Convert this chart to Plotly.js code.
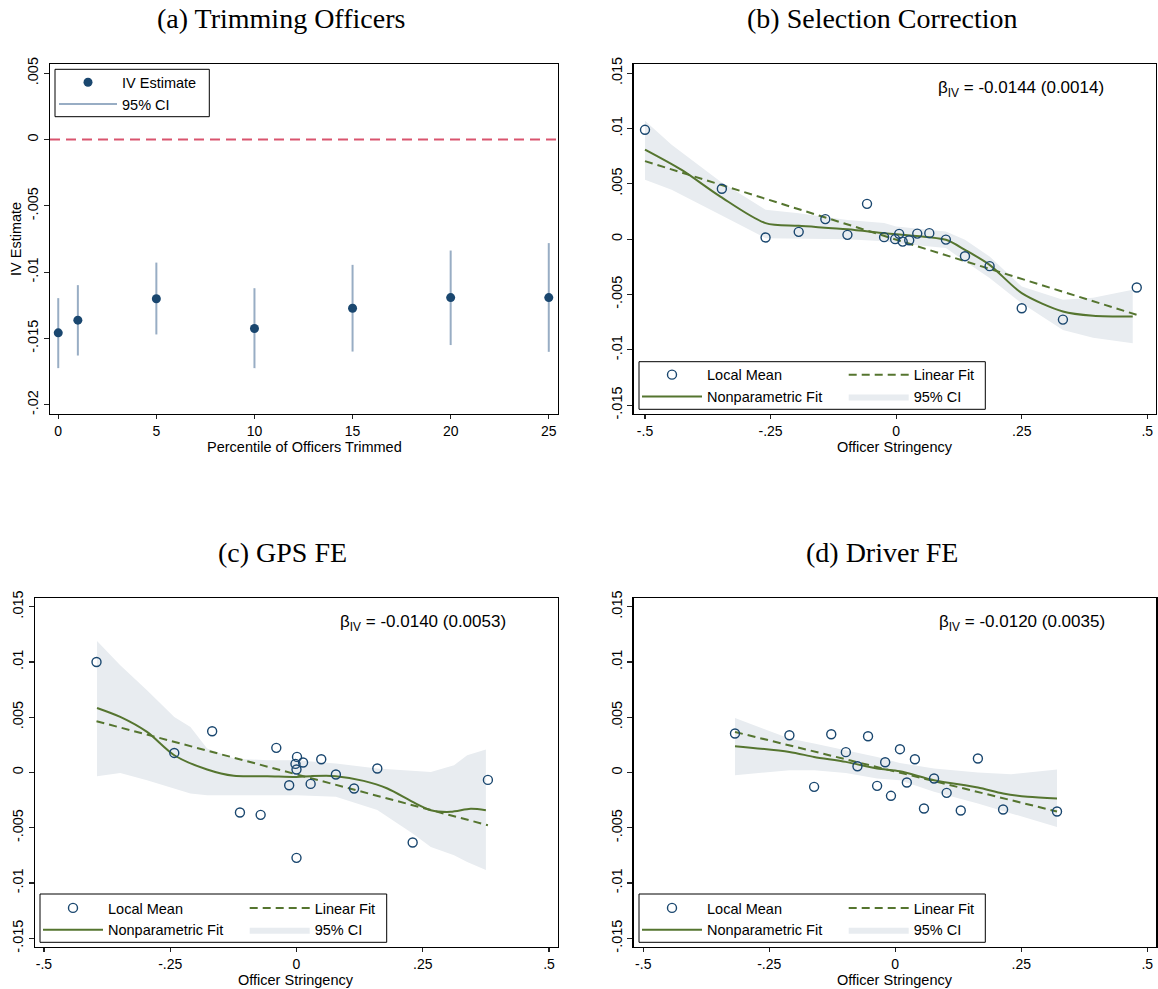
<!DOCTYPE html>
<html>
<head>
<meta charset="utf-8">
<script src="https://cdn.plot.ly/plotly-3.0.1.min.js"></script>
<style>html,body{margin:0;padding:0;background:#fff;}#chart{width:1158px;height:989px;}</style>
</head>
<body>
<div id="chart"></div>
<script>
// ---------- Panel (a): Trimming Officers ----------
var aPct = [0, 1, 5, 10, 15, 20, 25];
var aEst = [-0.01458, -0.01362, -0.01201, -0.01425, -0.01272, -0.01192, -0.01192];
var aLo  = [-0.01724, -0.01629, -0.01470, -0.01724, -0.01599, -0.01550, -0.01601];
var aHi  = [-0.01196, -0.01098, -0.00928, -0.01121, -0.00945, -0.00837, -0.00781];
var aXTicks = [0, 5, 10, 15, 20, 25];
var aYTicks = [0.005, 0, -0.005, -0.01, -0.015, -0.02];
var aYTickText = [".005", "0", "-.005", "-.01", "-.015", "-.02"];

// ---------- Panel (b): Selection Correction ----------
var bX = [-0.5, -0.347, -0.26, -0.194, -0.141, -0.097, -0.058, -0.024, -0.002, 0.006, 0.013, 0.026, 0.042, 0.066, 0.099, 0.137, 0.186, 0.25, 0.332, 0.479];
var bY = [0.00988, 0.00455, 0.00015, 0.00066, 0.00181, 0.00039, 0.00319, 0.00018, 0.0, 0.00048, -0.00022, -0.0001, 0.0005, 0.00054, -0.00004, -0.00154, -0.00244, -0.00624, -0.00727, -0.00437];
var bFitX = [-0.5, -0.427, -0.35, -0.26, -0.194, -0.097, -0.024, 0, 0.099, 0.137, 0.186, 0.25, 0.332, 0.392, 0.471];
var bFitY = [0.0081, 0.00626, 0.00385, 0.00145, 0.0012, 0.0009, 0.00054, 0.00045, -0.00006, -0.00097, -0.00232, -0.00488, -0.00654, -0.00693, -0.007];
var bBandX = [-0.5, -0.447, -0.35, -0.26, -0.194, -0.097, -0.024, 0, 0.099, 0.137, 0.186, 0.25, 0.332, 0.392, 0.471];
var bUpper = [0.0107, 0.00852, 0.0052, 0.00265, 0.00235, 0.00174, 0.00145, 0.00114, 0.00069, -0.00006, -0.00157, -0.00428, -0.00548, -0.0053, -0.00458];
var bLower = [0.00536, 0.00446, 0.0022, 0.00009, 0.00003, 0.0, -0.0002, -0.00036, -0.00081, -0.002, -0.0035, -0.0058, -0.0082, -0.0089, -0.0094];
var bLinX = [-0.5, 0.479];
var bLinY = [0.00705, -0.00684];
var bLabel = "β<sub>IV</sub> = -0.0144 (0.0014)";

// ---------- Panel (c): GPS FE ----------
var cX = [-0.396, -0.242, -0.167, -0.112, -0.071, -0.040, -0.0145, -0.002, 0.001, 0.0, 0.0, 0.013, 0.028, 0.049, 0.078, 0.114, 0.16, 0.23, 0.379];
var cY = [0.0100, 0.00177, 0.00373, -0.00362, -0.00383, 0.00223, -0.00115, 0.00078, 0.00141, 0.00027, -0.00772, 0.0009, -0.00103, 0.0012, -0.00018, -0.00145, 0.00036, -0.00633, -0.00067];
var cFitX = [-0.395, -0.349, -0.296, -0.242, -0.177, -0.124, -0.058, 0, 0.028, 0.078, 0.133, 0.18, 0.23, 0.266, 0.305, 0.345, 0.375];
var cFitY = [0.00584, 0.00503, 0.00367, 0.00156, 0.00027, -0.0003, -0.00033, -0.0004, -0.00033, -0.00033, -0.00076, -0.00145, -0.00266, -0.00341, -0.00356, -0.00329, -0.00341];
var cBandX = [-0.395, -0.349, -0.296, -0.242, -0.21, -0.177, -0.124, -0.058, 0, 0.078, 0.16, 0.23, 0.266, 0.312, 0.338, 0.375];
var cUpper = [0.0119, 0.0097, 0.00744, 0.00503, 0.00412, 0.00217, 0.00127, 0.00111, 0.00111, 0.00081, 0.00036, 0.00015, 0.00005, 0.00066, 0.00156, 0.00208];
var cLower = [-0.00033, -0.00004, -0.0007, -0.00145, -0.0019, -0.00205, -0.00205, -0.00205, -0.00205, -0.0022, -0.0034, -0.00552, -0.00673, -0.00748, -0.0081, -0.00883];
var cLinX = [-0.396, 0.379];
var cLinY = [0.00464, -0.00477];
var cLabel = "β<sub>IV</sub> = -0.0140 (0.0053)";

// ---------- Panel (d): Driver FE ----------
var dX = [-0.318, -0.21, -0.161, -0.127, -0.098, -0.075, -0.054, -0.036, -0.020, -0.0085, 0.0093, 0.023, 0.039, 0.057, 0.077, 0.102, 0.13, 0.164, 0.214, 0.321];
var dY = [0.00353, 0.00337, -0.0013, 0.00346, 0.00184, 0.00057, 0.00328, -0.00121, 0.00093, -0.00211, 0.00211, -0.0009, 0.0012, -0.00326, -0.00054, -0.00184, -0.00344, 0.00127, -0.00335, -0.00353];
var dFitX = [-0.318, -0.21, -0.161, -0.098, -0.036, 0.009, 0.077, 0.164, 0.214, 0.263, 0.321];
var dFitY = [0.00238, 0.00186, 0.00141, 0.00096, 0.00036, 0.00012, -0.0007, -0.00136, -0.0019, -0.0022, -0.00235];
var dBandX = [-0.318, -0.21, -0.161, -0.098, -0.036, 0.009, 0.077, 0.164, 0.23, 0.321];
var dUpper = [0.00494, 0.00307, 0.00262, 0.00202, 0.00141, 0.00087, 0.00036, 0.0, -0.00015, 0.00027];
var dLower = [-0.00024, 0.00021, 0.00021, -0.00004, -0.00054, -0.0007, -0.00175, -0.0028, -0.0037, -0.00492];
var dLinX = [-0.318, 0.321];
var dLinY = [0.00367, -0.00353];
var dLabel = "β<sub>IV</sub> = -0.0120 (0.0035)";

// shared tick labels for (b)-(d)
var sXTicks = [-0.5, -0.25, 0, 0.25, 0.5];
var sXTickText = ["-.5", "-.25", "0", ".25", ".5"];
var sYTicks = [0.015, 0.01, 0.005, 0, -0.005, -0.01, -0.015];
var sYTickText = [".015", ".01", ".005", "0", "-.005", "-.01", "-.015"];

var panelTitles = ["(a) Trimming Officers", "(b) Selection Correction", "(c) GPS FE", "(d) Driver FE"];
var xTitles = ["Percentile of Officers Trimmed", "Officer Stringency", "Officer Stringency", "Officer Stringency"];
var yTitleA = "IV Estimate";

// ---------- styling ----------
var SANS = "Liberation Sans, Arial, Helvetica, sans-serif";
var SERIF = "Liberation Serif, Times New Roman, serif";
var NAVY = "#1a476f";
var GREEN = "#55752f";
var BAND = "#e8ecf0";

var traces = [];

// Panel a
var ciX = [], ciY = [];
for (var i = 0; i < aPct.length; i++) { ciX.push(aPct[i], aPct[i], null); ciY.push(aLo[i], aHi[i], null); }
traces.push({x: ciX, y: ciY, type: "scatter", mode: "lines", name: "95% CI",
  line: {color: "#98adc4", width: 2}, xaxis: "x", yaxis: "y", legend: "legend", legendrank: 2, hoverinfo: "skip"});
traces.push({x: aPct, y: aEst, type: "scatter", mode: "markers", name: "IV Estimate",
  marker: {color: NAVY, size: 9}, xaxis: "x", yaxis: "y", legend: "legend", legendrank: 1});

function addPanel(ax, X, Y, fitX, fitY, bandX, up, lo, linX, linY, legA, legB) {
  var px = bandX.concat(bandX.slice().reverse());
  var py = up.concat(lo.slice().reverse());
  traces.push({x: px, y: py, type: "scatter", mode: "lines", fill: "toself", fillcolor: BAND,
    line: {width: 0, color: BAND}, name: "95% CI", xaxis: "x" + ax, yaxis: "y" + ax, legend: legB, legendrank: 2, hoverinfo: "skip"});
  traces.push({x: linX, y: linY, type: "scatter", mode: "lines", name: "Linear Fit",
    line: {color: GREEN, width: 2, dash: "8px,5px"}, xaxis: "x" + ax, yaxis: "y" + ax, legend: legB, legendrank: 1});
  traces.push({x: fitX, y: fitY, type: "scatter", mode: "lines", name: "Nonparametric Fit",
    line: {color: GREEN, width: 2, shape: "spline", smoothing: 0.8}, xaxis: "x" + ax, yaxis: "y" + ax, legend: legA, legendrank: 2});
  traces.push({x: X, y: Y, type: "scatter", mode: "markers", name: "Local Mean",
    marker: {symbol: "circle-open", size: 9, color: NAVY, line: {width: 1.4, color: NAVY}},
    xaxis: "x" + ax, yaxis: "y" + ax, legend: legA, legendrank: 1});
}
addPanel("2", bX, bY, bFitX, bFitY, bBandX, bUpper, bLower, bLinX, bLinY, "legend2", "legend3");
addPanel("3", cX, cY, cFitX, cFitY, cBandX, cUpper, cLower, cLinX, cLinY, "legend4", "legend5");
addPanel("4", dX, dY, dFitX, dFitY, dBandX, dUpper, dLower, dLinX, dLinY, "legend6", "legend7");

function axisBase(extra) {
  var o = {showline: true, mirror: true, linecolor: "#000", linewidth: 1.3, ticks: "outside", ticklen: 5,
    tickwidth: 1.2, tickcolor: "#222", showgrid: false, zeroline: false, automargin: false,
    tickfont: {family: SANS, size: 14.5, color: "#000"}, fixedrange: true, tickmode: "array"};
  for (var k in extra) o[k] = extra[k];
  return o;
}
var xTickFont = {family: SANS, size: 14, color: "#000"};
var W = 1158, H = 989;
function px2x(p) { return p / W; }
function py2y(p) { return 1 - p / H; }

var layout = {
  width: W, height: H, margin: {l: 0, r: 0, t: 0, b: 0}, paper_bgcolor: "#fff", plot_bgcolor: "#fff",
  showlegend: true,
  xaxis: axisBase({domain: [px2x(50), px2x(558)], range: [-0.42, 25.47], anchor: "y", tickvals: aXTicks, ticktext: aXTicks.map(String), tickfont: xTickFont, ticklen: 4}),
  yaxis: axisBase({domain: [py2y(414), py2y(64)], range: [-0.0207, 0.0057], anchor: "x", tickvals: aYTicks, ticktext: aYTickText, tickangle: -90}),
  xaxis2: axisBase({domain: [px2x(633.7), px2x(1156)], range: [-0.5225, 0.5173], anchor: "y2", tickvals: sXTicks, ticktext: sXTickText, tickfont: xTickFont, ticklen: 4}),
  yaxis2: axisBase({domain: [py2y(414), py2y(64.3)], range: [-0.0158, 0.0158], anchor: "x2", tickvals: sYTicks, ticktext: sYTickText, tickangle: -90}),
  xaxis3: axisBase({domain: [px2x(35), px2x(557.7)], range: [-0.5178, 0.5172], anchor: "y3", tickvals: sXTicks, ticktext: sXTickText, tickfont: xTickFont, ticklen: 4}),
  yaxis3: axisBase({domain: [py2y(946.7), py2y(598.3)], range: [-0.01576, 0.01576], anchor: "x3", tickvals: sYTicks, ticktext: sYTickText, tickangle: -90}),
  xaxis4: axisBase({domain: [px2x(633.7), px2x(1156.3)], range: [-0.519, 0.518], anchor: "y4", tickvals: sXTicks, ticktext: sXTickText, tickfont: xTickFont, ticklen: 4}),
  yaxis4: axisBase({domain: [py2y(946.7), py2y(598.3)], range: [-0.01576, 0.01576], anchor: "x4", tickvals: sYTicks, ticktext: sYTickText, tickangle: -90}),
  shapes: [
    {type: "line", xref: "x domain", yref: "y", x0: 0, x1: 1, y0: 0, y1: 0, line: {color: "#d9546e", width: 2, dash: "10px,6px"}, layer: "below"},
    {type: "rect", xref: "paper", yref: "paper", x0: px2x(55), x1: px2x(209.3), y0: py2y(116.7), y1: py2y(69.3), line: {color: "#000", width: 1}, fillcolor: "#fff", layer: "above"},
    {type: "rect", xref: "paper", yref: "paper", x0: px2x(639), x1: px2x(985.3), y0: py2y(409.3), y1: py2y(361.7), line: {color: "#000", width: 1}, fillcolor: "#fff", layer: "above"},
    {type: "rect", xref: "paper", yref: "paper", x0: px2x(40), x1: px2x(386.7), y0: py2y(942.3), y1: py2y(894), line: {color: "#000", width: 1}, fillcolor: "#fff", layer: "above"},
    {type: "rect", xref: "paper", yref: "paper", x0: px2x(639), x1: px2x(985.3), y0: py2y(942.3), y1: py2y(894), line: {color: "#000", width: 1}, fillcolor: "#fff", layer: "above"}
  ],
  annotations: [],
  font: {family: SANS, color: "#000"}
};

function legendAt(xp, yp, extra) {
  var o = {x: px2x(xp), y: py2y(yp), xanchor: "left", yanchor: "top", xref: "paper", yref: "paper",
    bgcolor: "rgba(0,0,0,0)", borderwidth: 0, font: {family: SANS, size: 14.5, color: "#000"},
    itemwidth: 60, tracegroupgap: 0, traceorder: "normal", orientation: "v", itemclick: false, itemdoubleclick: false};
  for (var k in extra) o[k] = extra[k];
  return o;
}
layout.legend = legendAt(54, 66.3, {itemwidth: 58});
layout.legend2 = legendAt(637, 358.7);
layout.legend3 = legendAt(843.7, 358.7);
layout.legend4 = legendAt(38, 892);
layout.legend5 = legendAt(244.7, 892);
layout.legend6 = legendAt(637, 892);
layout.legend7 = legendAt(843.7, 892);

// panel titles
var titlePos = [[281, 18], [882, 18], [282, 552], [882, 552]];
for (var t = 0; t < panelTitles.length; t++) {
  layout.annotations.push({text: panelTitles[t], xref: "paper", yref: "paper", x: px2x(titlePos[t][0]), y: py2y(titlePos[t][1]),
    xanchor: "center", yanchor: "middle", showarrow: false, font: {family: SERIF, size: 28, color: "#000"}});
}
// axis titles (positioned under each plot area)
var axSuffix = ["", "2", "3", "4"];
var xTitleY = [447.5, 447.5, 980, 980];
for (var k = 0; k < 4; k++) {
  layout.annotations.push({text: xTitles[k], xref: "x" + axSuffix[k] + " domain", x: 0.5, yref: "paper", y: py2y(xTitleY[k]),
    xanchor: "center", yanchor: "middle", showarrow: false, font: {family: SANS, size: 14.5, color: "#000"}});
}
layout.annotations.push({text: yTitleA, xref: "paper", x: px2x(16), yref: "y domain", y: 0.5, textangle: -90,
  xanchor: "center", yanchor: "middle", showarrow: false, font: {family: SANS, size: 14.5, color: "#000"}});

// beta annotations
var betaLabels = [["2", bLabel], ["3", cLabel], ["4", dLabel]];
betaLabels.forEach(function (b) {
  layout.annotations.push({text: b[1], xref: "x" + b[0] + " domain", yref: "y" + b[0] + " domain", x: 0.905, y: 0.928,
    xanchor: "right", yanchor: "middle", showarrow: false, font: {family: SANS, size: 17, color: "#000"}});
});

Plotly.newPlot("chart", traces, layout, {staticPlot: true, displayModeBar: false});
</script>
</body>
</html>
